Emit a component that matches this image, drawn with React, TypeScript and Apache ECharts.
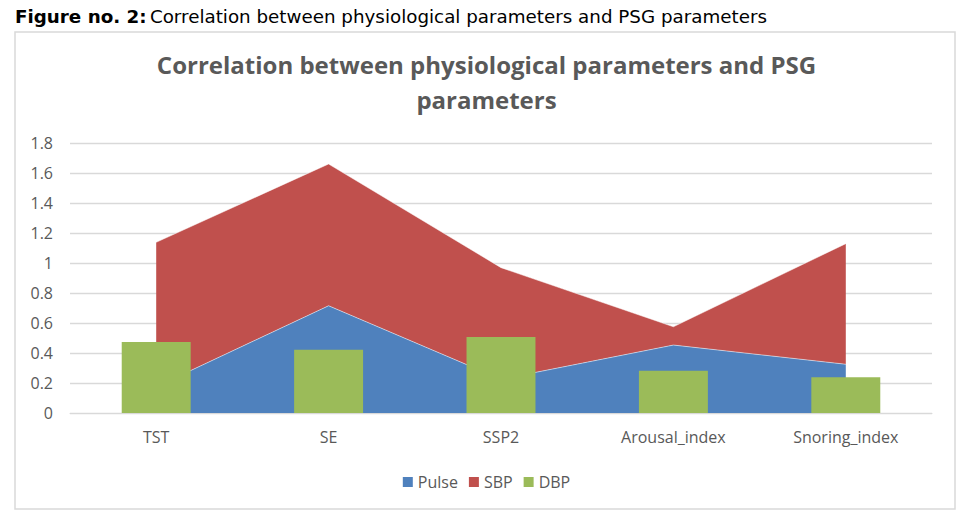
import React, { useEffect, useRef } from "react";
import * as echarts from "echarts";

const categories = ["TST", "SE", "SSP2", "Arousal_index", "Snoring_index"];
const pulse = [0.175, 0.715, 0.225, 0.453, 0.325];
const sbp = [0.963, 0.945, 0.744, 0.122, 0.804];
const dbp = [0.473, 0.422, 0.507, 0.282, 0.238];
const yTicks = [0, 0.2, 0.4, 0.6, 0.8, 1, 1.2, 1.4, 1.6, 1.8];

export default function App() {
  const ref = useRef<HTMLDivElement>(null);
  useEffect(() => {
    if (!ref.current) return;
    const chart = echarts.init(ref.current, null, { renderer: "svg" });
    const gray = "#595959";
    chart.setOption({
      animation: false,
      backgroundColor: "#ffffff",
      graphic: [
        {
          type: "rect",
          shape: { x: 15, y: 32, width: 940, height: 477 },
          style: { fill: "none", stroke: "#d9d9d9", lineWidth: 1.5 },
          z: 0,
        },
        {
          type: "text",
          x: 15,
          y: 7,
          style: {
            text: "{b|Figure no. 2:} {r|Correlation between physiological parameters and PSG parameters}",
            rich: {
              b: { fontFamily: "DejaVu Sans", fontWeight: "bold", fontSize: 18.3, fill: "#000" },
              r: { fontFamily: "DejaVu Sans", fontSize: 18.3, fill: "#000" },
            },
          },
        },
      ],
      title: {
        text: "Correlation between physiological parameters and PSG\nparameters",
        left: "center",
        top: 42,
        textStyle: {
          fontFamily: "Open Sans",
          fontWeight: "bold",
          fontSize: 24,
          color: gray,
          lineHeight: 35,
        },
      },
      legend: {
        bottom: 28,
        left: "center",
        itemWidth: 10,
        itemHeight: 10,
        itemGap: 11,
        icon: "rect",
        textStyle: { fontFamily: "Open Sans", fontSize: 16, color: gray },
        data: ["Pulse", "SBP", "DBP"],
      },
      grid: { left: 70, right: 41, top: 143, bottom: 110 },
      xAxis: {
        type: "category",
        data: categories,
        boundaryGap: true,
        axisLine: { lineStyle: { color: "#d9d9d9", width: 1 } },
        axisTick: { show: false },
        axisLabel: { color: gray, fontFamily: "Open Sans", fontSize: 16, margin: 16 },
      },
      yAxis: {
        type: "value",
        min: 0,
        max: 1.8,
        interval: 0.2,
        axisLine: { show: false },
        axisTick: { show: false },
        splitLine: { lineStyle: { color: "#d9d9d9", width: 1.3 } },
        axisLabel: {
          color: gray,
          fontFamily: "Open Sans",
          fontSize: 16,
          margin: 17,
          formatter: (v: number) => {
            const t = yTicks.find((x) => Math.abs(x - v) < 1e-6);
            return String(t !== undefined ? t : Math.round(v * 10) / 10);
          },
        },
      },
      series: [
        {
          name: "Pulse",
          type: "line",
          stack: "a",
          data: pulse,
          symbol: "none",
          lineStyle: { width: 1, color: "rgba(255,255,255,0.5)" },
          itemStyle: { color: "#4F81BD" },
          areaStyle: { color: "#4F81BD", opacity: 1 },
          z: 2,
        },
        {
          name: "SBP",
          type: "line",
          stack: "a",
          data: sbp,
          symbol: "none",
          lineStyle: { width: 1, color: "rgba(255,255,255,0.5)" },
          itemStyle: { color: "#C0504D" },
          areaStyle: { color: "#C0504D", opacity: 1 },
          z: 1,
        },
        {
          name: "DBP",
          type: "bar",
          data: dbp,
          barWidth: "40%",
          itemStyle: { color: "#9BBB59" },
          z: 5,
        },
      ],
    });
    return () => chart.dispose();
  }, []);
  return (
    <div
      ref={ref}
      style={{ position: "fixed", left: 0, top: 0, width: 973, height: 523 }}
    />
  );
}
